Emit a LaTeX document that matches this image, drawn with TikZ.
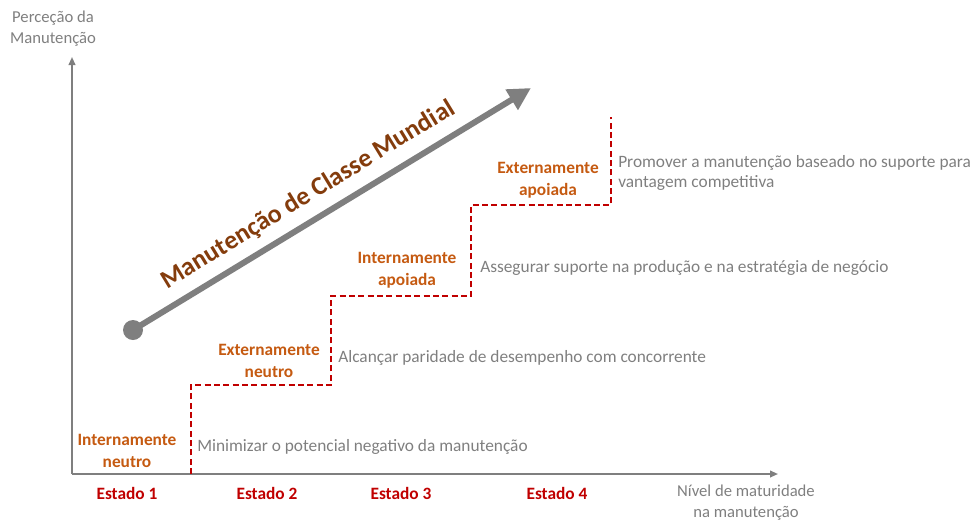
\documentclass[tikz,border=0pt]{standalone}
\usepackage{fontspec}
\setmainfont{Carlito}
\usetikzlibrary{arrows.meta}
\definecolor{txtgray}{RGB}{127,127,127}
\definecolor{stageorange}{RGB}{197,90,17}
\definecolor{statered}{RGB}{192,0,0}
\definecolor{wcbrown}{RGB}{132,60,12}
\begin{document}
\begin{tikzpicture}[x=0.75pt, y=-0.75pt,
            every node/.style={inner sep=0pt, font=\fontsize{13}{15}\selectfont},
            axis/.style={draw=txtgray, line width=1.3pt, -{Triangle[length=6pt,width=5pt]}},
            stair/.style={draw=statered, line width=1.5pt, dash pattern=on 4.5pt off 2.5pt},
            stage/.style={text=stageorange, align=center, font=\bfseries\fontsize{13}{16.5}\selectfont},
            estado/.style={text=statered, font=\bfseries\fontsize{13}{15}\selectfont},
            desc/.style={text=txtgray, anchor=west, align=left},
            axlabel/.style={text=txtgray, align=center, font=\fontsize{12.5}{15.75}\selectfont},
            bigarrow/.style={draw=txtgray, line width=4.5pt, -{Triangle[length=17pt,width=17pt]}}
        ]
        \useasboundingbox (0,0) rectangle (974,522);

        % axes
        \coordinate (o) at (72,474);
        \coordinate (ytop) at (72,57);
        \coordinate (xend) at (778,474);
        \draw[axis] (o) -- (ytop);
        \draw[axis] (o) -- (xend);
        \node[axlabel] (ylbl) at (53,29) {Perceção da\\Manutenção};
        \node[axlabel] (xlbl) at (746,503) {Nível de maturidade\\na manutenção};

        % staircase
        \coordinate (s0) at (191,474);
        \coordinate (s1) at (191,385);
        \coordinate (s2) at (331,385);
        \coordinate (s3) at (331,296);
        \coordinate (s4) at (471,296);
        \coordinate (s5) at (471,205);
        \coordinate (s6) at (611,205);
        \coordinate (s7) at (611,117);
        \draw[stair] (s0) -- (s1) -- (s2) -- (s3) -- (s4) -- (s5) -- (s6) -- (s7);

        % stages
        \node[stage] (in) at (127,451) {Internamente\\neutro};
        \node[stage] (en) at (269,361) {Externamente\\neutro};
        \node[stage] (ia) at (407,270) {Internamente\\apoiada};
        \node[stage] (ea) at (548,180) {Externamente\\apoiada};

        \node[desc] (d1) at (197,447) {Minimizar o potencial negativo da manutenção};
        \node[desc] (d2) at (338,358) {Alcançar paridade de desempenho com concorrente};
        \node[desc] (d3) at (480,268) {Assegurar suporte na produção e na estratégia de negócio};
        \node[desc] (d4) at (618,173) {Promover a manutenção baseado no suporte para\\vantagem competitiva};

        \node[estado] (e1) at (127,493) {Estado 1};
        \node[estado] (e2) at (267,493) {Estado 2};
        \node[estado] (e3) at (401,493) {Estado 3};
        \node[estado] (e4) at (557,493) {Estado 4};

        % world class arrow
        \node[circle, fill=txtgray, minimum size=15pt] (dot) at (133,330) {};
        \coordinate (tip) at (531,88);
        \draw[bigarrow] (dot.center) -- (tip);
        \node[rotate=31.4, anchor=base, text=wcbrown, font=\bfseries\fontsize{19.5}{22}\selectfont] (wc) at (312,201) {Manutenção de Classe Mundial};

        \end{tikzpicture}
\end{document}
